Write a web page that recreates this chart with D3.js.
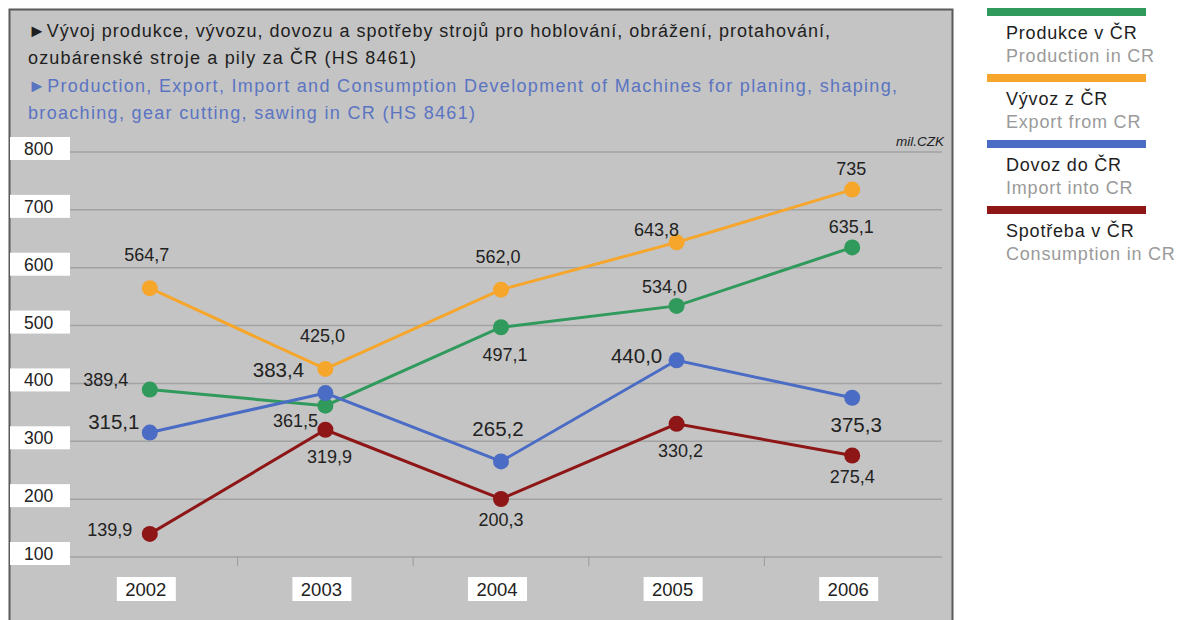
<!DOCTYPE html>
<html>
<head>
<meta charset="utf-8">
<script src="https://cdn.jsdelivr.net/npm/d3@7"></script>
<style>
  html, body { margin: 0; padding: 0; background: #fff; }
  svg { display: block; font-family: "Liberation Sans", Arial, Helvetica, sans-serif; }
</style>
</head>
<body>
<svg id="chart" width="1180" height="620"></svg>
<script>
// ---- data ----
const years = ["2002", "2003", "2004", "2005", "2006"];
const production = [389.4, 361.5, 497.1, 534.0, 635.1];
const exportVals = [564.7, 425.0, 562.0, 643.8, 735];
const importVals = [315.1, 383.4, 265.2, 440.0, 375.3];
const consumption = [139.9, 319.9, 200.3, 330.2, 275.4];
const yTicks = [100, 200, 300, 400, 500, 600, 700, 800];
const valueLabels = {
  production: ["389,4", "361,5", "497,1", "534,0", "635,1"],
  export: ["564,7", "425,0", "562,0", "643,8", "735"],
  import: ["315,1", "383,4", "265,2", "440,0", "375,3"],
  consumption: ["139,9", "319,9", "200,3", "330,2", "275,4"]
};
const labelPlacement = {
  production: ["upleftFar", "downleft", "below", "upleftNear", "aboveNear"],
  export: ["above", "above", "above", "upleftNear2", "aboveNear"],
  import: ["upleft", "upleftWide", "above", "left", "below"],
  consumption: ["left", "below", "below2", "below", "below2"]
};
const titleCz = ["►Vývoj produkce, vývozu, dovozu a spotřeby strojů pro hoblování, obrážení, protahování,",
                 "ozubárenské stroje a pily za ČR (HS 8461)"];
const titleEn = ["►Production, Export, Import and Consumption Development of Machines for planing, shaping,",
                 "broaching, gear cutting, sawing in CR (HS 8461)"];
const unitLabel = "mil.CZK";
const legendCz = ["Produkce v ČR", "Vývoz z ČR", "Dovoz do ČR", "Spotřeba v ČR"];
const legendEn = ["Production in CR", "Export from CR", "Import into CR", "Consumption in CR"];

// ---- styling ----
const series = [
  { key: "export", values: exportVals, color: "#f7a62c" },
  { key: "production", values: production, color: "#2f9a5c" },
  { key: "import", values: importVals, color: "#4a6cc4" },
  { key: "consumption", values: consumption, color: "#8e1616" }
];
const legendColors = ["#2f9a5c", "#f7a62c", "#4a6cc4", "#8e1616"];
const labelSize = { production: 18, export: 18, import: 20.5, consumption: 18 };
const offsets = {
  above: [-3, -33], aboveNear: [-1, -21], below: [4, 27], below2: [0, 21],
  left: [-40, -4], upleft: [-36, -11], upleftFar: [-44, -10], upleftWide: [-47, -23],
  upleftNear: [-12, -19], upleftNear2: [-20, -13], downleft: [-30, 15]
};
const titleWidths = [802, 388, 869, 447];

const svg = d3.select("#chart");

// panel
svg.append("rect").attr("x", 9.5).attr("y", 9.5).attr("width", 943).attr("height", 620)
  .attr("fill", "#c4c4c4").attr("stroke", "#5a5a5a").attr("stroke-width", 2);

// titles
const tg = svg.append("g");
titleCz.forEach((t, i) => tg.append("text").attr("x", 28).attr("y", 37 + i * 27)
  .attr("font-size", 18).attr("fill", "#1e1e1e")
  .attr("textLength", titleWidths[i]).attr("lengthAdjust", "spacing").text(t));
titleEn.forEach((t, i) => tg.append("text").attr("x", 28).attr("y", 92 + i * 27)
  .attr("font-size", 18).attr("fill", "#5b74c2")
  .attr("textLength", titleWidths[i + 2]).attr("lengthAdjust", "spacing").text(t));

// scales
const x = d3.scaleBand().domain(years).range([62, 940]);
const y = d3.scaleLinear().domain([100, 800]).range([557, 152]);

// gridlines
svg.append("g").selectAll("line").data(yTicks).join("line")
  .attr("x1", 70).attr("x2", 942)
  .attr("y1", d => y(d)).attr("y2", d => y(d))
  .attr("stroke", "#a2a2a2").attr("stroke-width", 1.5);

// unit label
svg.append("text").attr("x", 944).attr("y", 146).attr("text-anchor", "end")
  .attr("font-size", 13.5).attr("font-style", "italic").attr("fill", "#222").text(unitLabel);

// y labels in white boxes
const yl = svg.append("g").selectAll("g").data(yTicks).join("g")
  .attr("transform", d => `translate(10, ${y(d) - 15})`);
yl.append("rect").attr("width", 60).attr("height", 23).attr("fill", "#fff");
yl.append("text").attr("x", 14).attr("y", 18).attr("font-size", 17.5).attr("fill", "#222").text(d => d);

// x axis tick marks between categories
svg.append("g").selectAll("line").data(years.slice(1)).join("line")
  .attr("x1", d => x(d)).attr("x2", d => x(d))
  .attr("y1", y(100)).attr("y2", y(100) + 9)
  .attr("stroke", "#9a9a9a").attr("stroke-width", 1);

// x labels
const xl = svg.append("g").selectAll("g").data(years).join("g")
  .attr("transform", d => `translate(${x(d) + x.bandwidth() / 2 - 4}, 589)`);
xl.append("rect").attr("x", -29).attr("y", -12).attr("width", 59).attr("height", 24).attr("fill", "#fff");
xl.append("text").attr("text-anchor", "middle").attr("y", 7).attr("font-size", 18.5)
  .attr("fill", "#222").text(d => d);

// lines and markers
const cx = d => x(d) + x.bandwidth() / 2;
const line = d3.line().x((v, i) => cx(years[i])).y(v => y(v));
series.forEach(s => {
  svg.append("path").datum(s.values).attr("d", line)
    .attr("fill", "none").attr("stroke", s.color).attr("stroke-width", 3);
});
series.forEach(s => {
  svg.append("g").selectAll("circle").data(s.values).join("circle")
    .attr("cx", (v, i) => cx(years[i])).attr("cy", v => y(v)).attr("r", 8)
    .attr("fill", s.color);
});
series.forEach(s => {
  svg.append("g").selectAll("text").data(s.values).join("text")
    .attr("x", (v, i) => cx(years[i]) + offsets[labelPlacement[s.key][i]][0])
    .attr("y", (v, i) => y(v) + offsets[labelPlacement[s.key][i]][1])
    .attr("dy", "0.35em").attr("text-anchor", "middle")
    .attr("font-size", labelSize[s.key]).attr("fill", "#222")
    .text((v, i) => valueLabels[s.key][i]);
});

// legend
const lg = svg.append("g").selectAll("g").data(legendCz).join("g")
  .attr("transform", (d, i) => `translate(987, ${8 + i * 66})`);
lg.append("rect").attr("width", 159).attr("height", 8).attr("fill", (d, i) => legendColors[i]);
lg.append("text").attr("x", 19).attr("y", 31).attr("font-size", 18).attr("letter-spacing", 0.8)
  .attr("fill", "#1e1e1e").text(d => d);
lg.append("text").attr("x", 19).attr("y", 54).attr("font-size", 18).attr("letter-spacing", 0.8)
  .attr("fill", "#9a9a9a").text((d, i) => legendEn[i]);
</script>
</body>
</html>
